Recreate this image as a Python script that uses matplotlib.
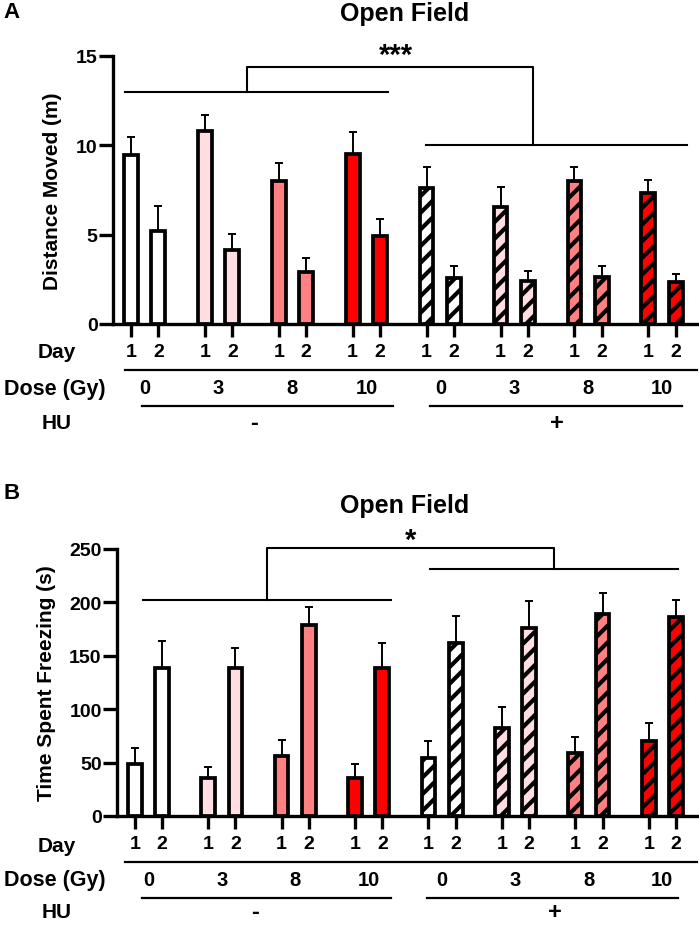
import matplotlib
matplotlib.use("Agg")
import matplotlib.pyplot as plt
import matplotlib.transforms as mtransforms
import numpy as np

plt.rcParams['font.family'] = ['Liberation Sans', 'DejaVu Sans']
plt.rcParams['font.weight'] = 'bold'
plt.rcParams['hatch.linewidth'] = 3.0

# ---------------- data ----------------
days = ["1", "2"] * 8
doses = ["0", "3", "8", "10", "0", "3", "8", "10"]
hu_labels = ["-", "+"]
group_colors = ["#FFFFFF", "#FFDDE1", "#FF8080", "#FF0000"] * 2
group_hatch = [False] * 4 + [True] * 4

dist_mean = [9.45, 5.2, 10.78, 4.15, 8.0, 2.9, 9.5, 4.92, 7.6, 2.6, 6.53, 2.38, 8.0, 2.65, 7.32, 2.33]
dist_upper = [10.45, 6.62, 11.71, 5.05, 9.03, 3.71, 10.73, 5.88, 8.8, 3.23, 7.68, 2.95, 8.77, 3.23, 8.07, 2.8]

freeze_mean = [49, 139, 36, 139, 56, 179, 36, 139, 54, 162, 82, 176, 59, 189, 70, 186]
freeze_upper = [64, 164, 46, 157, 71, 196, 49, 162, 70, 187, 102, 201, 74, 209, 87, 202]

panels = [
    dict(letter="A", mean=dist_mean, upper=dist_upper, ylim=(0, 15), yticks=[0, 5, 10, 15],
         ylabel="Distance Moved (m)", star="***",
         left_line=(-0.22, 9.35, 13.0), right_line=(10.73, 20.25, 10.0),
         bracket=(4.22, 14.65, 14.4),
         ax_px=(113, 57, 697, 325), ylabel_x=53,
         day_y=352, day_line=(-0.22, 371), dose_y=389,
         dose_lines=[(0.4, 9.53), (10.87, 20.04)], dose_line_y=407, hu_y=424,
         title_y=14, letter_y=13, star_px=(396, 56), hu_pos=(4.5, 15.5)),
    dict(letter="B", mean=freeze_mean, upper=freeze_upper, ylim=(0, 250), yticks=[0, 50, 100, 150, 200, 250],
         ylabel="Time Spent Freezing (s)", star="*",
         left_line=(0.29, 9.38, 202.5), right_line=(10.8, 19.9, 231.5),
         bracket=(4.84, 15.35, 250.6),
         ax_px=(117, 550, 697, 817), ylabel_x=47,
         day_y=847, day_line=(-0.37, 863), dose_y=881,
         dose_lines=[(0.26, 9.38), (10.7, 19.9)], dose_line_y=899, hu_y=913,
         title_y=506, letter_y=494, star_px=(411, 541), hu_pos=(4.4, 15.4)),
]

W, H = 699, 929
fig = plt.figure(figsize=(W / 100, H / 100), dpi=100)

G = 2.69
xpos = np.array([g * G + d for g in range(8) for d in range(2)])
xlim = (-0.65, 20.6)


def fy(py):
    return 1 - py / H


def fx(px):
    return px / W


for p in panels:
    l, t, r, b = p["ax_px"]
    ax = fig.add_axes([fx(l), fy(b), (r - l) / W, (b - t) / H])
    ax.set_xlim(*xlim)
    ax.set_ylim(*p["ylim"])
    for s in ["top", "right"]:
        ax.spines[s].set_visible(False)
    for s in ["left", "bottom"]:
        ax.spines[s].set_linewidth(2.4)
    mean = np.array(p["mean"])
    upper = np.array(p["upper"])
    for i, (x, m, u) in enumerate(zip(xpos, mean, upper)):
        g = i // 2
        ax.errorbar(x, m, yerr=[[0], [u - m]], fmt="none", ecolor="black",
                    elinewidth=1.4, capsize=3, capthick=1.4, zorder=2)
        ax.bar(x, m, width=0.5, color=group_colors[g], edgecolor="black",
               linewidth=2.7, hatch="//" if group_hatch[g] else None, zorder=3)
    ax.set_yticks(p["yticks"])
    ax.set_yticklabels([str(v) for v in p["yticks"]], fontsize=14, fontweight="bold")
    ax.tick_params(axis="y", length=10, width=2.4, pad=1)
    ax.set_xticks(xpos)
    ax.set_xticklabels(days, fontsize=14, fontweight="bold")
    ax.tick_params(axis="x", length=9.5, width=2.4, pad=4)

    # significance lines
    lw = 1.5
    x0, x1, yv = p["left_line"]
    ax.plot([x0, x1], [yv, yv], color="black", lw=lw, clip_on=False)
    x0b, x1b, yb = p["right_line"]
    ax.plot([x0b, x1b], [yb, yb], color="black", lw=lw, clip_on=False)
    bx0, bx1, by = p["bracket"]
    ax.plot([bx0, bx0, bx1, bx1], [yv, by, by, yb], color="black", lw=lw, clip_on=False)

    # texts in figure space
    fig.text(fx(12), fy(p["letter_y"]), p["letter"], fontsize=16, fontweight="bold",
             ha="center", va="center")
    fig.text(fx(405), fy(p["title_y"]), "Open Field", fontsize=18, fontweight="bold",
             ha="center", va="center")
    sx, sy = p["star_px"]
    fig.text(fx(sx), fy(sy), p["star"], fontsize=21, fontweight="bold",
             ha="center", va="center")
    fig.text(fx(p["ylabel_x"]), fy((t + b) / 2), p["ylabel"], fontsize=15, fontweight="bold",
             ha="center", va="center", rotation=90)

    trans = mtransforms.blended_transform_factory(ax.transData, fig.transFigure)
    fig.text(fx(57), fy(p["day_y"]), "Day", fontsize=15, fontweight="bold", ha="center", va="center")
    fig.text(fx(55), fy(p["dose_y"]), "Dose (Gy)", fontsize=15.5, fontweight="bold", ha="center", va="center")
    fig.text(fx(57), fy(p["hu_y"]), "HU", fontsize=15, fontweight="bold", ha="center", va="center")

    dl0, dly = p["day_line"]
    ax.plot([dl0, xlim[1]], [fy(dly)] * 2, color="black", lw=1.6, transform=trans, clip_on=False)
    for g, lab in enumerate(doses):
        xc = g * G + 0.5
        ax.text(xc, fy(p["dose_y"]), lab, fontsize=14.5, fontweight="bold", ha="center", va="center",
                transform=trans)
    for (a0, a1) in p["dose_lines"]:
        ax.plot([a0, a1], [fy(p["dose_line_y"])] * 2, color="black", lw=1.6, transform=trans, clip_on=False)
    for xc, lab in zip(p["hu_pos"], hu_labels):
        ax.text(xc, fy(p["hu_y"]), lab, fontsize=17, fontweight="bold", ha="center", va="center",
                transform=trans)

fig.savefig("out.png", dpi=100)
